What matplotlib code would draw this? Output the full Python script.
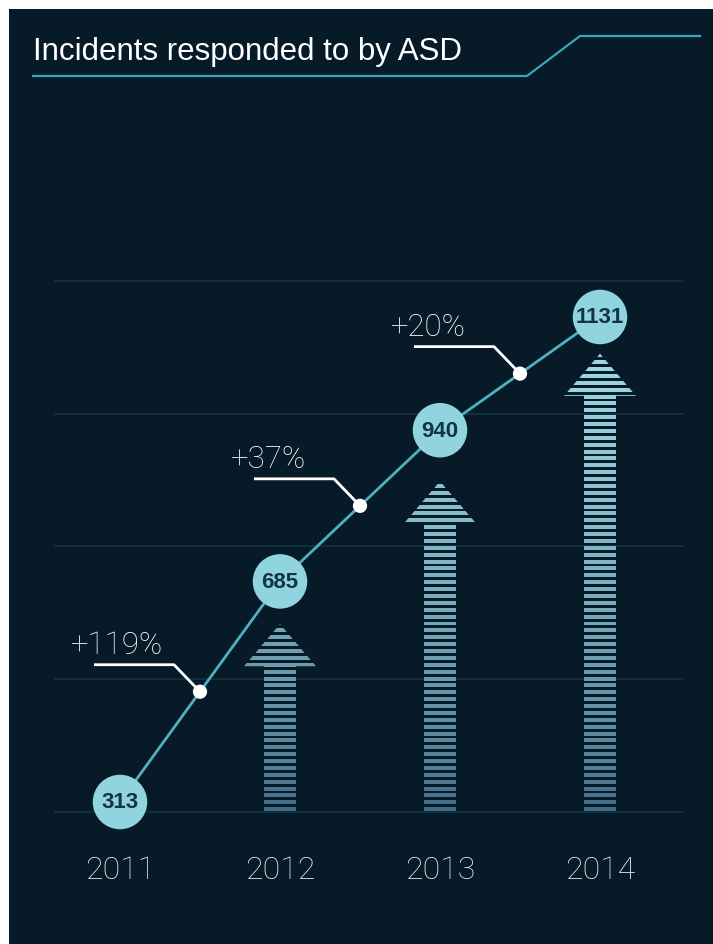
import matplotlib
matplotlib.use("Agg")
import matplotlib.pyplot as plt
import matplotlib.transforms as mtransforms
from matplotlib.patches import Polygon, Rectangle
import numpy as np

# ---- data ----
years = ["2011", "2012", "2013", "2014"]
incidents = [313, 685, 940, 1131]
arrow_tops = [613, 854, 1069]          # arrow tips for 2012-2014
grid_values = [296, 520, 744, 968, 1192]
title = "Incidents responded to by ASD"

# ---- styles ----
BG = "#071a28"
GRID = "#14343f"
LINE = "#4fb0c0"
CIRCLE = "#90d4e0"
CIRCLE_TXT = "#13334a"
TITLE_LINE = "#3aa6b8"
LIGHT = np.array([0x9e, 0xd9, 0xe5]) / 255
DARK = np.array([0x3c, 0x66, 0x7e]) / 255

W, H = 713, 945
fig = plt.figure(figsize=(W / 100, H / 100), dpi=100)
fig.patch.set_facecolor("white")
fig.patches.append(Rectangle((9 / W, 0), 1 - 9 / W, 1 - 10 / H, transform=fig.transFigure,
                             facecolor=BG, edgecolor="none", zorder=-10))

# axes: x unit = 160 px, y unit = 0.5929 px
ax = fig.add_axes([54.4 / W, 45 / H, 628.8 / W, 700 / H])
ax.set_zorder(5)
ax.set_xlim(-0.41, 3.52)
ax.set_ylim(149.4, 1330)
ax.axis("off")
ax.patch.set_alpha(0)

x = np.arange(len(years))

for g in grid_values:
    ax.axhline(g, color=GRID, lw=1.2, zorder=1)

def pix(xd, yd):
    return mtransforms.Affine2D() + mtransforms.ScaledTranslation(xd, yd, ax.transData)

# ---- striped arrows ----
base = grid_values[0]
shaft_hw = 0.10
head_hw = 0.225
head_h = 71
period = 11.6
thick = 6.7
for xi, top in zip(x[1:], arrow_tops):
    verts = [(xi - shaft_hw, base), (xi - shaft_hw, top - head_h), (xi - head_hw, top - head_h),
             (xi, top), (xi + head_hw, top - head_h), (xi + shaft_hw, top - head_h),
             (xi + shaft_hw, base)]
    poly = Polygon(verts, closed=True, transform=ax.transData)
    ys = np.arange(base + thick / 2 + 1.5, top + period, period)
    t = np.clip((ys - base) / (arrow_tops[-1] - base), 0, 1) ** 0.65
    cols = [tuple(DARK + (LIGHT - DARK) * ti) for ti in t]
    bars = ax.barh(ys, 2 * head_hw, left=xi - head_hw, height=thick, color=cols, zorder=2)
    for b in bars:
        b.set_clip_path(poly)

# ---- line and circles ----
ax.plot(x, incidents, color=LINE, lw=2, zorder=3)
ax.scatter(x, incidents, s=1540, color=CIRCLE, zorder=4, edgecolors="none")
for xi, v in zip(x, incidents):
    ax.text(xi, v, str(v), ha="center", va="center", fontsize=16, fontweight="bold",
            color=CIRCLE_TXT, family=["Liberation Sans", "DejaVu Sans"], zorder=5)

# ---- growth markers ----
mx = (x[:-1] + x[1:]) / 2
my = (np.array(incidents[:-1]) + np.array(incidents[1:])) / 2
ax.scatter(mx, my, s=105, color="white", zorder=6, edgecolors="none")
for xm, ym, a, b in zip(mx, my, incidents[:-1], incidents[1:]):
    pct = round((b / a - 1) * 100)
    tr = pix(xm, ym)
    ax.plot([-106, -26, 0], [27, 27, 0], color="white", lw=2, transform=tr, zorder=5,
            solid_capstyle="butt")
    ax.text(-129, 33, f"+{pct}%", transform=tr, ha="left", va="bottom", fontsize=22.5,
            color="white", family=["Roboto", "DejaVu Sans"], fontweight="light", zorder=6)

# ---- year labels ----
for xi, yr in zip(x, years):
    ax.text(0, -57, yr, transform=pix(xi, base), ha="center", va="center", fontsize=23,
            color="#eceef0", family=["Roboto", "DejaVu Sans"], fontweight="light")

# ---- title ----
fig.text(33 / W, 1 - 52 / H, title, ha="left", va="center", fontsize=22.5, color="white",
         family=["Liberation Sans", "DejaVu Sans"])
tx = np.array([33, 527, 580, 700]) / W
ty = 1 - np.array([77, 77, 37, 37]) / H
fig.add_artist(plt.Line2D(tx, ty, transform=fig.transFigure, color=TITLE_LINE, lw=1.6))

fig.savefig("out.png", dpi=100, facecolor=fig.get_facecolor())
